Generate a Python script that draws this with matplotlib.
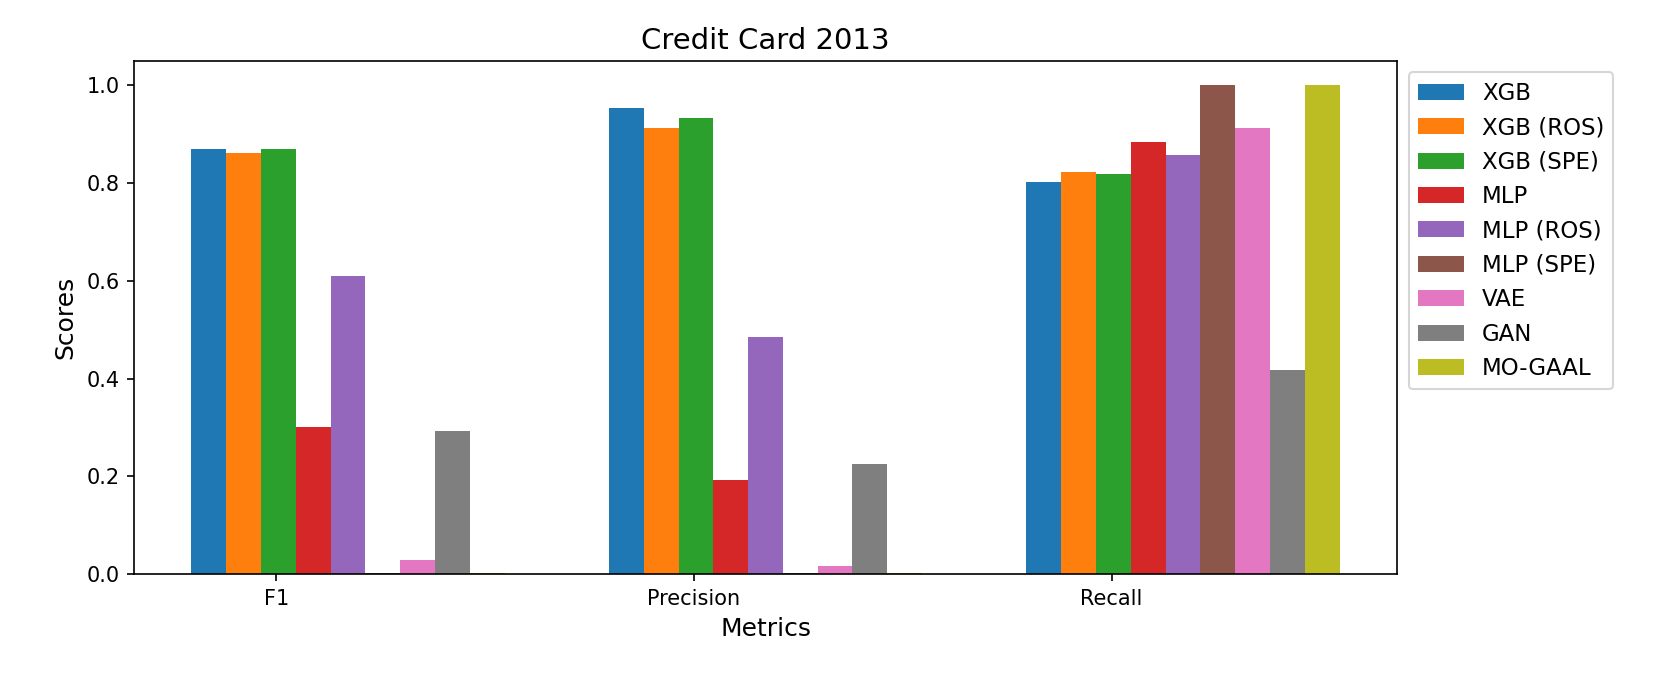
import numpy as np
import matplotlib
matplotlib.use('Agg')
import matplotlib.pyplot as plt

# Scores
metrics = ['F1', 'Precision', 'Recall']
models = ['XGB', 'XGB (ROS)', 'XGB (SPE)', 'MLP', 'MLP (ROS)', 'MLP (SPE)',
          'VAE', 'GAN', 'MO-GAAL']
xgb = [0.870, 0.953, 0.802]
xgb_ros = [0.862, 0.912, 0.822]
xgb_spe = [0.870, 0.934, 0.818]
mlp = [0.301, 0.192, 0.884]
mlp_ros = [0.610, 0.486, 0.857]
mlp_spe = [0.003, 0.002, 1.000]
vae = [0.029, 0.016, 0.912]
gan = [0.293, 0.225, 0.418]
mo_gaal = [0.003, 0.002, 1.000]

scores = [xgb, xgb_ros, xgb_spe, mlp, mlp_ros, mlp_spe, vae, gan, mo_gaal]

fig, ax = plt.subplots(figsize=(1660 / 150, 675 / 150), dpi=150)
fig.subplots_adjust(left=0.0807, right=0.8416, top=0.9096, bottom=0.1496)

x = np.arange(len(metrics))
width = 1 / 12
for i, (name, vals) in enumerate(zip(models, scores)):
    ax.bar(x + i * width, vals, width, label=name)

ax.set_xticks(x + 0.162)
ax.set_xticklabels(metrics)
ax.set_xlabel('Metrics', fontsize=12)
ax.set_ylabel('Scores', fontsize=12)
ax.set_title('Credit Card 2013', fontsize=14)
ax.legend(loc='upper left', bbox_to_anchor=(1.0, 1.0), fontsize=11)

plt.savefig('out.png', dpi=150)
